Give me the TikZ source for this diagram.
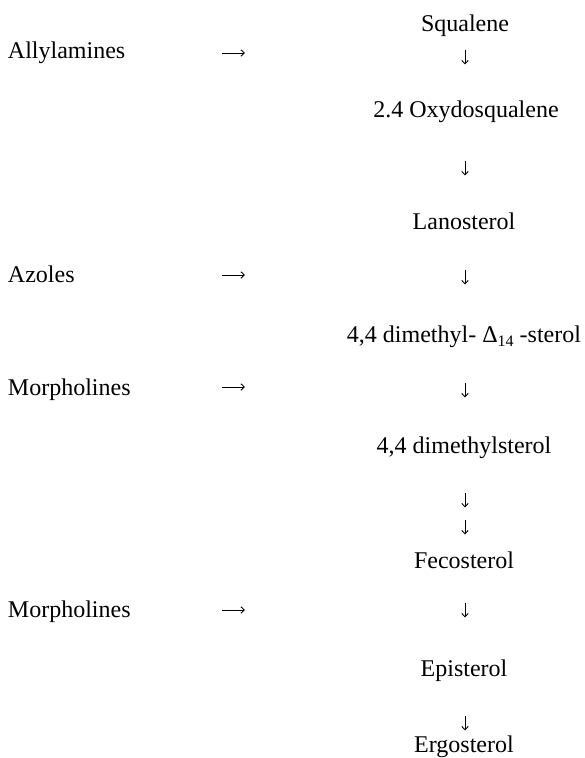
\documentclass[tikz,border=0pt]{standalone}
\usepackage{fontspec}
\setmainfont{Liberation Serif}
\usetikzlibrary{arrows.meta}
\begin{document}
\begin{tikzpicture}[x=1pt,y=-1pt,
  every node/.style={inner sep=0pt, outer sep=0pt, font=\fontsize{24}{28}\selectfont},
  stage/.style={anchor=base},
  drug/.style={anchor=base west},
  flow/.style={line width=0.9pt, -{Straight Barb[length=3.5pt,width=6.5pt,line width=0.9pt]}}]
\useasboundingbox (0,0) rectangle (584,758);

% pathway, top to bottom
\node[stage] (squalene) at (465,31) {Squalene};
\node[stage] (oxydo) at (466,117) {2.4 Oxydosqualene};
\node[stage] (lano) at (464,229) {Lanosterol};
\node[stage] (delta) at (464,342) {4,4 dimethyl- Δ{\raisebox{-4pt}{\fontsize{16}{16}\selectfont 14}} -sterol};
\node[stage] (dimethyl) at (464,453) {4,4 dimethylsterol};
\node[stage] (feco) at (464,568) {Fecosterol};
\node[stage] (epi) at (464,676) {Episterol};
\node[stage] (ergo) at (464,752) {Ergosterol};

% downward step arrows (start and end points)
\foreach \n/\y in {d1/57, d2/168, d3/277, d4/390, d5/500, d6/527, d7/610, d8/723} {
  \coordinate (\n s) at (465,\y-7.5);
  \coordinate (\n e) at (465,\y+7.5);
}
\foreach \n in {d1,d2,d3,d4,d5,d6,d7,d8}
  \draw[flow] (\n s) -- (\n e);

% inhibitor classes and the step they act on
\node[drug] (allyl) at (8,58) {Allylamines};
\node[drug] (azoles) at (8,282) {Azoles};
\node[drug] (morph1) at (8,395) {Morpholines};
\node[drug] (morph2) at (8,617) {Morpholines};
\foreach \n/\y in {r1/53, r2/275, r3/387, r4/610} {
  \coordinate (\n s) at (222,\y);
  \coordinate (\n e) at (245,\y);
}
\foreach \n in {r1,r2,r3,r4}
  \draw[flow] (\n s) -- (\n e);
\end{tikzpicture}
\end{document}
